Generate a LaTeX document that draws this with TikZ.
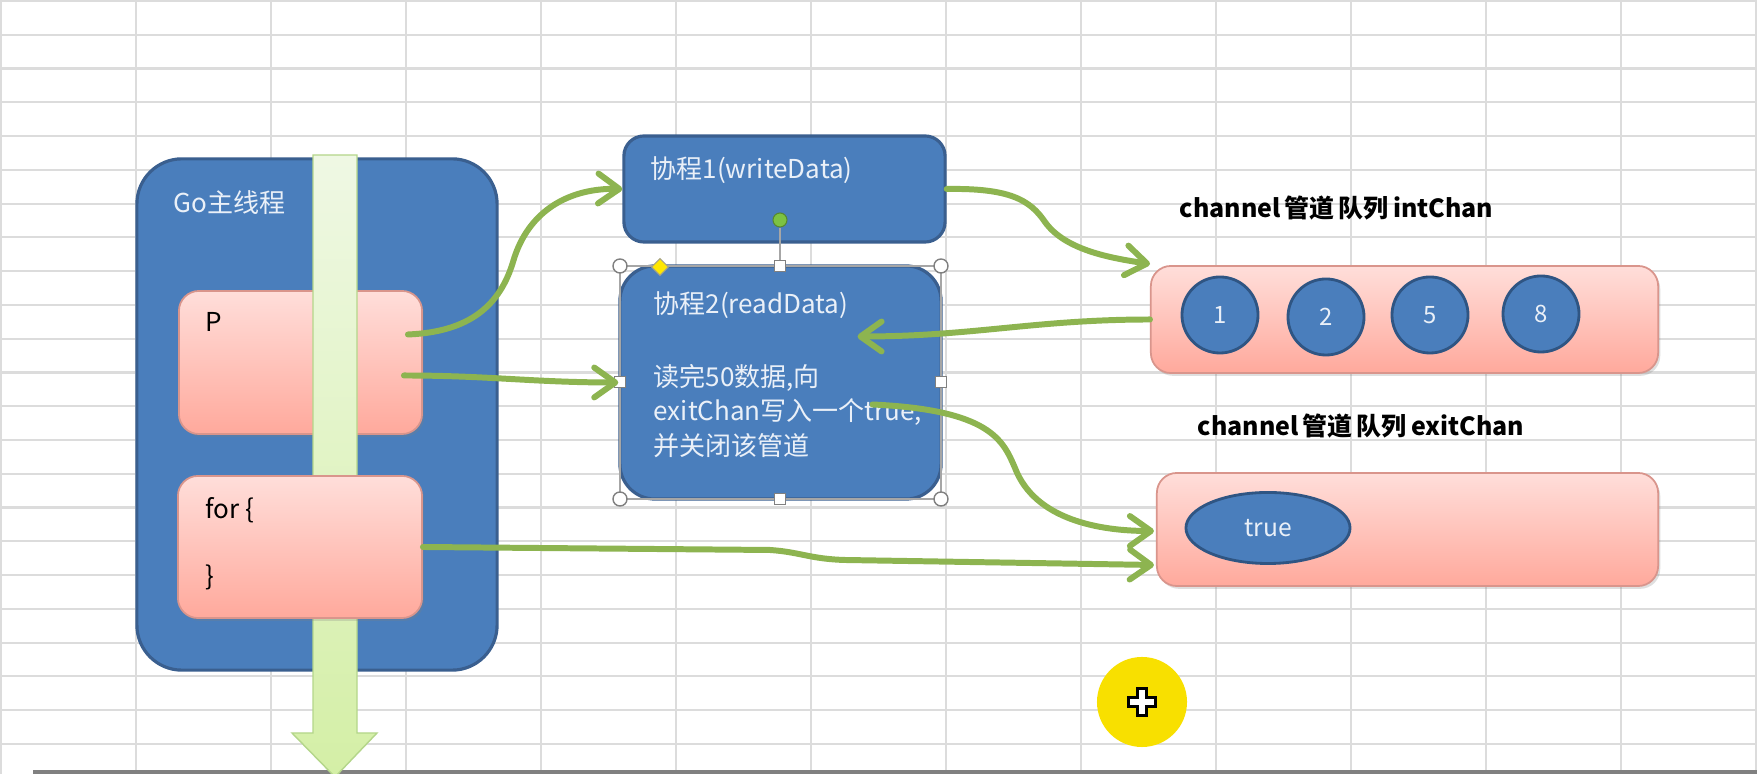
\documentclass[tikz,border=0pt]{standalone}
\usepackage{fontspec}
\setmainfont{Noto Sans CJK SC}
\usetikzlibrary{arrows.meta,shapes.geometric,shadows}
\pgfdeclarelayer{bg}
\pgfsetlayers{bg,main}
\definecolor{cellline}{HTML}{DCDCDC}
\definecolor{boxblue}{HTML}{4A7EBC}
\definecolor{boxedge}{HTML}{3A5F8F}
\definecolor{circedge}{HTML}{2F5583}
\definecolor{pinktop}{HTML}{FFDEDA}
\definecolor{pinkbot}{HTML}{FFA99C}
\definecolor{pinkedge}{HTML}{D9958C}
\definecolor{flowgreen}{HTML}{8DB450}
\definecolor{paletext}{HTML}{EAF0F8}
\definecolor{bartop}{HTML}{EFF8E4}
\definecolor{barbot}{HTML}{D4EFA6}
\definecolor{baredge}{HTML}{B4D68A}
\definecolor{cursoryellow}{HTML}{F8E000}
\definecolor{spingreen}{HTML}{7CC242}
\tikzset{
  gridline/.style={draw=cellline, line width=0.6pt},
  sheetedge/.style={draw=gray, line width=0.9pt},
  bluebox/.style={rectangle, draw=boxedge, line width=0.9pt, fill=boxblue, rounded corners=0.2cm, inner sep=0pt},
  pinkbox/.style={rectangle, draw=pinkedge, line width=0.5pt, top color=pinktop, bottom color=pinkbot,
    rounded corners=0.2cm, inner sep=0pt, drop shadow={shadow xshift=0.6pt, shadow yshift=-0.8pt, opacity=0.25}},
  threadbar/.style={draw=baredge, line width=0.4pt, top color=bartop, bottom color=barbot},
  lighttext/.style={text=paletext, inner sep=0pt, anchor=west, font=\fontsize{7.4pt}{9.7pt}\selectfont},
  darktext/.style={text=black, inner sep=0pt, anchor=west, font=\fontsize{7.4pt}{9pt}\selectfont},
  chantitle/.style={text=black, inner sep=0pt, anchor=west, font=\bfseries\fontsize{7.1pt}{9pt}\selectfont},
  datacircle/.style={circle, draw=circedge, line width=0.8pt, fill=boxblue, minimum size=0.76cm, inner sep=0pt,
    text=paletext, font=\fontsize{6.8pt}{8pt}\selectfont},
  dataoval/.style={ellipse, draw=circedge, line width=0.8pt, fill=boxblue, minimum width=1.64cm, minimum height=0.71cm,
    inner sep=0pt, text=paletext, font=\fontsize{7pt}{8pt}\selectfont},
  flow/.style={draw=flowgreen, line width=1.7pt, line cap=round, -{Straight Barb[length=6pt,width=8.5pt,round]}},
  selframe/.style={draw=gray!70, line width=0.3pt},
  cornergrip/.style={circle, draw=gray, fill=white, line width=0.4pt, minimum size=0.14cm, inner sep=0pt},
  sidegrip/.style={rectangle, draw=gray, fill=white, line width=0.4pt, minimum size=0.11cm, inner sep=0pt},
  shapeknob/.style={diamond, draw=gray!80!yellow, fill=yellow!90!orange, line width=0.3pt, minimum size=0.17cm, inner sep=0pt},
  spinknob/.style={circle, draw=spingreen!70!black, fill=spingreen, line width=0.3pt, minimum size=0.14cm, inner sep=0pt}
}

\begin{document}
\begin{tikzpicture}[x=0.01cm, y=-0.01cm]
        \useasboundingbox (0,0) rectangle (1757,774);
        \begin{pgfonlayer}{bg}
                \fill[white] (0,0) rectangle (1757,774);
                \foreach \gx in {1,136,...,1756} \draw[gridline] (\gx,0) -- (\gx,774);
                \foreach \k in {0,...,22} \draw[gridline] (0,{1+33.77*\k}) -- (1757,{1+33.77*\k});
                \draw[sheetedge] (33,772) -- (1757,772);
        \end{pgfonlayer}

        % main thread
        \node (gomain) [bluebox, rounded corners=0.45cm, minimum width=3.60cm, minimum height=5.11cm] at (317,414.5) {};
        \node (gotitle) [lighttext] at (173,203) {Go主线程};
        \node (pbox) [pinkbox, minimum width=2.43cm, minimum height=1.43cm] at (300.5,362.5) {};
        \node (plabel) [darktext] at (205,322) {P};
        \draw[threadbar] (313,155) -- (357,155) -- (357,733) -- (377,733) -- (335,777) -- (292,733) -- (313,733) -- cycle;
        \node (forbox) [pinkbox, minimum width=2.44cm, minimum height=1.42cm] at (300,547) {};
        \node (foropen) [darktext] at (205,510) {for \{};
        \node (forclose) [darktext] at (205,577) {\}};

        % goroutines
        \node (wdata) [bluebox, minimum width=3.21cm, minimum height=1.06cm] at (784.5,189) {};
        \node (wtitle) [lighttext] at (650,170) {协程1(writeData)};
        \node (rdata) [bluebox, rounded corners=0.35cm, minimum width=3.21cm, minimum height=2.33cm] at (780.5,382.5) {};
        \node (rtitle) [lighttext] at (653,305) {协程2(readData)};
        \node (rnote) [lighttext, anchor=north west, align=left] at (653,364) {读完50数据,向\\exitChan写入一个true,\\并关闭该管道};

        % selection handles
        \draw[selframe] (620,266) rectangle (941,499);
        \foreach \hx/\hy [count=\i] in {620/266, 941/266, 620/499, 941/499}
                \node (ring\i) [cornergrip] at (\hx,\hy) {};
        \foreach \hx/\hy [count=\i] in {780/266, 620/382, 941/382, 780/499}
                \node (tab\i) [sidegrip] at (\hx,\hy) {};
        \node (spin) [spinknob] at (780,220) {};
        \draw[selframe] (spin) -- (tab1);
        \node (knob) [shapeknob] at (660,267) {};

        % channels
        \node (inttitle) [chantitle] at (1179,208) {channel\,管道\,队列\,intChan};
        \node (intchan) [pinkbox, minimum width=5.07cm, minimum height=1.07cm] at (1404.5,319.5) {};
        \foreach \v/\cx/\cy in {1/1220/315, 2/1326/317, 5/1430/315, 8/1541/314}
                \node (val\v) [datacircle] at (\cx,\cy) {\v};
        \node (exittitle) [chantitle] at (1197,426) {channel\,管道\,队列\,exitChan};
        \node (exitchan) [pinkbox, minimum width=5.01cm, minimum height=1.13cm] at (1407.5,529.5) {};
        \node (flag) [dataoval] at (1268,528) {true};

        % data flow
        \coordinate (intin) at (1150,264);
        \draw[flow] ([shift={(-15,-28)}]pbox.east) .. controls (470,332) and (500,305) .. (513,262)
                .. controls (528,210) and (570,188) .. (wdata.west);
        \draw[flow] ([shift={(-19,13)}]pbox.east) to[out=0,in=180] (rdata.west);
        \draw[flow] (wdata.east) .. controls (1010,188) and (1030,200) .. (1045,222)
                .. controls (1065,250) and (1110,258) .. (intin);
        \draw[flow] (intchan.west) to[out=180,in=0] ([shift={(77,-46)}]rdata.center);
        \draw[flow] ([shift={(92,22)}]rdata.center) .. controls (990,410) and (1003,440) .. (1015,468)
                .. controls (1035,520) and (1100,531) .. ([shift={(-2,1.5)}]exitchan.west);
        \draw[flow] (forbox.east) -- (770,550) .. controls (800,552) and (810,559) .. (845,560)
                -- ([shift={(-2,35.5)}]exitchan.west);

        % pointer
        \node (pointer) [circle, fill=cursoryellow, minimum size=0.9cm, inner sep=0pt] at (1142,702) {};
        \draw[fill=white, draw=black, line width=0.6pt] ([shift={(-4.5,-13.5)}]pointer.center) -- ++(9,0) -- ++(0,9)
                -- ++(9,0) -- ++(0,9) -- ++(-9,0) -- ++(0,9) -- ++(-9,0) -- ++(0,-9) -- ++(-9,0) -- ++(0,-9) -- ++(9,0) -- cycle;
\end{tikzpicture}
\end{document}
